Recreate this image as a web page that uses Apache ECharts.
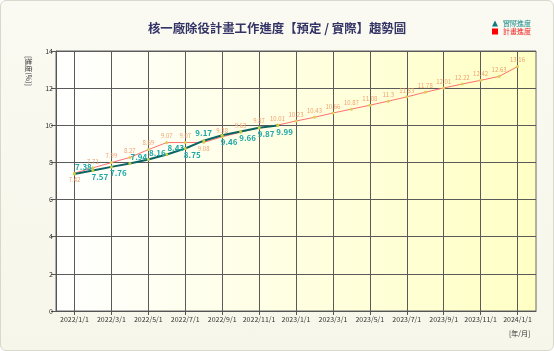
<!DOCTYPE html>
<html>
<head>
<meta charset="utf-8">
<script src="https://cdn.jsdelivr.net/npm/echarts@6/dist/echarts.min.js"></script>
<style>
html,body{margin:0;padding:0;width:554px;height:351px;overflow:hidden;background:#fff;}
#frame{position:absolute;left:0;top:0;width:552px;height:349px;border:1px solid #d8d8cc;border-radius:6px;
background:linear-gradient(to bottom,#fafaf2,#f6f6ea);}
#chart{position:absolute;left:0;top:0;width:554px;height:351px;}
</style>
</head>
<body>
<div id="frame"></div>
<div id="chart"></div>
<script>
// ---- data ----
const months = ['2021/12/1','2022/1/1','2022/2/1','2022/3/1','2022/4/1','2022/5/1','2022/6/1','2022/7/1','2022/8/1','2022/9/1','2022/10/1','2022/11/1','2022/12/1',
  '2023/1/1','2023/2/1','2023/3/1','2023/4/1','2023/5/1','2023/6/1','2023/7/1','2023/8/1','2023/9/1','2023/10/1','2023/11/1','2023/12/1','2024/1/1','2024/2/1'];
const plannedValues = [7.42,7.71,7.99,8.27,8.69,9.07,9.07,9.08,9.38,9.63,9.87,10.01,10.23,10.43,10.66,10.87,11.08,11.3,11.53,11.78,12.01,12.22,12.42,12.63,13.16];
const actualValues = [7.38,7.57,7.76,7.94,8.16,8.43,8.75,9.17,9.46,9.66,9.87,9.99];
const yTicks = [0,2,4,6,8,10,12,14];
const titleText = '核一廠除役計畫工作進度【預定 / 實際】趨勢圖';
const legendActual = '實際進度';
const legendPlanned = '計畫進度';

// label sides (style)
const actualSide = ['top','bottom','bottom','top','top','top','bottom','top','bottom','bottom','bottom','bottom'];
const plannedSide = plannedValues.map((v,i)=> (i===0 || i===7) ? 'bottom' : 'top');

const FONT = '"Noto Sans CJK TC","Noto Sans",sans-serif';
const plannedData = [null].concat(plannedValues.map((v,i)=>({value:v,label:{position:plannedSide[i]}})), [null]);
const actualData = [null].concat(actualValues.map((v,i)=>({value:v,label:{position:actualSide[i], offset: actualSide[i]==='top' ? (i===7?[0,0]:[9,1]) : [7,-1]}})));

const showOdd = (idx)=> idx % 2 === 1;

const chart = echarts.init(document.getElementById('chart'), null, {renderer:'canvas'});
chart.setOption({
  backgroundColor: 'transparent',
  animation: false,
  title: {
    text: titleText, left: 'center', top: 17,
    textStyle: {fontFamily: FONT, fontSize: 12.4, fontWeight: 'bold', color: '#333366'}
  },
  legend: {
    orient: 'vertical', right: 18, top: 15, itemGap: 1, itemWidth: 6, itemHeight: 6,
    textStyle: {fontFamily: FONT, fontSize: 7},
    data: [
      {name: legendActual, icon: 'triangle', itemStyle: {color: '#117a7a'}, textStyle: {color: '#1a8a8a'}},
      {name: legendPlanned, icon: 'rect', itemStyle: {color: '#ff0000'}, textStyle: {color: '#ee2222'}}
    ]
  },
  grid: {
    left: 56, right: 18, top: 51, bottom: 40, show: true, borderColor: '#666', borderWidth: 1,
    backgroundColor: new echarts.graphic.LinearGradient(0,0,1,0,[{offset:0,color:'#ffffff'},{offset:1,color:'#ffffc4'}])
  },
  xAxis: {
    type: 'category', data: months, boundaryGap: false,
    axisLine: {show: true, lineStyle: {color: '#555'}},
    axisTick: {show: true, length: 4, interval: showOdd, lineStyle: {color: '#555'}},
    axisLabel: {interval: showOdd, fontFamily: FONT, fontSize: 7, color: '#333', margin: 5},
    splitLine: {show: true, interval: showOdd, lineStyle: {color: '#5a5a5a', width: 1}}
  },
  yAxis: {
    type: 'value', min: yTicks[0], max: yTicks[yTicks.length-1], interval: 2,
    axisLine: {show: true, lineStyle: {color: '#555'}},
    axisTick: {show: true, length: 5, lineStyle: {color: '#555'}},
    axisLabel: {fontFamily: FONT, fontSize: 7, color: '#333', margin: 3},
    splitLine: {show: true, lineStyle: {color: '#5a5a5a', width: 1}}
  },
  graphic: [
    {type: 'text', left: 509, top: 330, style: {text: '[年/月]', font: '7px ' + FONT, fill: '#333'}},
    {type: 'text', x: 32, y: 56, rotation: -Math.PI/2, style: {text: '[進度(%)]', font: '7px ' + FONT, fill: '#333'}}
  ],
  series: [
    {
      name: legendPlanned, type: 'line', data: plannedData,
      symbol: 'circle', symbolSize: 3, showSymbol: true,
      lineStyle: {color: '#ff6f6f', width: 1},
      itemStyle: {color: '#d8cf55'},
      label: {show: true, fontFamily: FONT, fontSize: 6, color: '#f0a070', distance: 2},
      z: 3
    },
    {
      name: legendActual, type: 'line', data: actualData,
      symbol: 'circle', symbolSize: 3, showSymbol: true,
      lineStyle: {color: '#0b6464', width: 2},
      itemStyle: {color: '#c8d040'},
      label: {show: true, fontFamily: FONT, fontSize: 8, fontWeight: 'bold', color: '#20a8a8', distance: 2},
      z: 4
    }
  ]
});
</script>
</body>
</html>
